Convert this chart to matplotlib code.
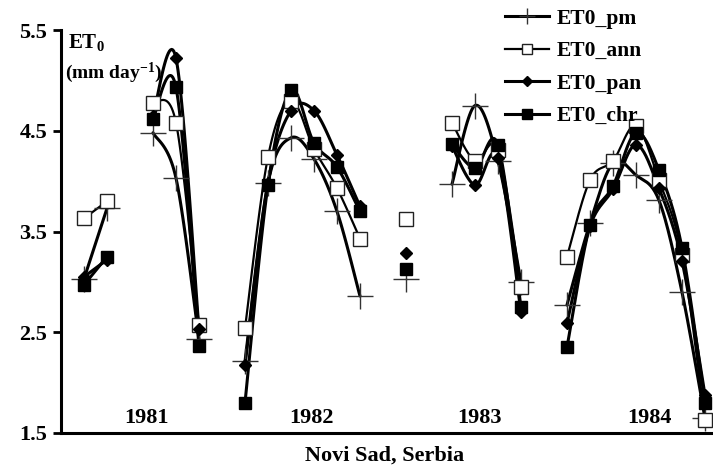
import numpy as np
import matplotlib
matplotlib.use("Agg")
import matplotlib.pyplot as plt
from matplotlib.lines import Line2D

plt.rcParams["font.family"] = ["Liberation Serif", "DejaVu Serif"]
plt.rcParams["font.weight"] = "bold"
plt.rcParams["mathtext.fontset"] = "custom"
plt.rcParams["mathtext.rm"] = "Liberation Serif:bold"
plt.rcParams["mathtext.default"] = "rm"

nan = np.nan
# Monthly slots, seven per season; NaN marks months without data
years = ["1981", "1982", "1983", "1984"]
year_pos = [2.7, 9.9, 17.2, 24.6]

et0_pm = [3.03, 3.73, nan, 4.48, 4.03, 2.43, nan,
          2.21, 3.98, 4.43, 4.22, 3.70, 2.86, nan,
          3.03, nan, 3.97, 4.75, 4.20, 3.00, nan,
          2.77, 3.58, 4.18, 4.06, 3.81, 2.90, 1.65]
et0_ann = [3.63, 3.80, nan, 4.78, 4.58, 2.57, nan,
           2.54, 4.24, 4.80, 4.32, 3.93, 3.43, nan,
           3.62, nan, 4.58, 4.20, 4.31, 2.95, nan,
           3.25, 4.01, 4.20, 4.55, 4.01, 3.27, 1.63]
et0_pan = [3.05, 3.22, nan, 4.65, 5.22, 2.53, nan,
           2.17, 3.98, 4.70, 4.70, 4.26, 3.75, nan,
           3.29, nan, 4.35, 3.96, 4.23, 2.70, nan,
           2.59, 3.55, 3.92, 4.36, 3.93, 3.21, 1.88]
et0_chr = [2.97, 3.25, nan, 4.62, 4.93, 2.36, nan,
           1.80, 3.96, 4.90, 4.38, 4.14, 3.70, nan,
           3.13, nan, 4.37, 4.13, 4.36, 2.75, nan,
           2.35, 3.56, 3.95, 4.48, 4.11, 3.34, 1.80]

yticks = [1.5, 2.5, 3.5, 4.5, 5.5]


def smooth_runs(y, n=24):
    """Smoothed (Catmull-Rom) curves through each contiguous run of values."""
    y = np.asarray(y, float)
    x = np.arange(len(y), dtype=float)
    ok = ~np.isnan(y)
    runs, start = [], None
    for i in range(len(y) + 1):
        if i < len(y) and ok[i]:
            if start is None:
                start = i
        elif start is not None:
            runs.append((start, i))
            start = None
    curves = []
    for a, b in runs:
        px, py = x[a:b], y[a:b]
        if len(px) < 2:
            continue
        cx, cy = [], []
        m = len(px)
        for i in range(m - 1):
            p0 = i - 1 if i > 0 else i
            p3 = i + 2 if i + 2 < m else i + 1
            t = np.linspace(0, 1, n)
            c1x = px[i] + (px[i + 1] - px[p0]) / 6
            c1y = py[i] + (py[i + 1] - py[p0]) / 6
            c2x = px[i + 1] - (px[p3] - px[i]) / 6
            c2y = py[i + 1] - (py[p3] - py[i]) / 6
            bx = ((1 - t) ** 3 * px[i] + 3 * (1 - t) ** 2 * t * c1x
                  + 3 * (1 - t) * t ** 2 * c2x + t ** 3 * px[i + 1])
            by = ((1 - t) ** 3 * py[i] + 3 * (1 - t) ** 2 * t * c1y
                  + 3 * (1 - t) * t ** 2 * c2y + t ** 3 * py[i + 1])
            cx.extend(bx)
            cy.extend(by)
        curves.append((np.array(cx), np.array(cy)))
    return curves


fig = plt.figure(figsize=(7.13, 4.68), dpi=100)
ax = fig.add_axes([61 / 713, 1 - 433 / 468, 1 - 61 / 713, (433 - 30) / 468])

styles = [
    (et0_pm, dict(marker="+", ms=19, mew=1.0, mfc="none", mec="#333333"), 2.2),
    (et0_ann, dict(marker="s", ms=9.5, mew=1.0, mfc="white", mec="#222222"), 1.6),
    (et0_pan, dict(marker="D", ms=6.5, mew=1.0, mfc="black", mec="black"), 2.2),
    (et0_chr, dict(marker="s", ms=9, mew=1.0, mfc="black", mec="black"), 2.2),
]

xs = np.arange(len(et0_pm))
for vals, mk, lw in styles:
    for cx, cy in smooth_runs(vals):
        ax.plot(cx, cy, color="black", lw=lw, solid_capstyle="round", zorder=2)
for vals, mk, lw in styles:
    ax.plot(xs, vals, ls="none", zorder=3, **mk)

ax.set_xlim(-1, 27.35)
ax.set_ylim(1.5, 5.5)
ax.set_yticks(yticks)
ax.set_yticklabels([f"{v:.1f}" for v in yticks], fontsize=16, fontweight="bold")
ax.set_xticks([])
for s in ["top", "right"]:
    ax.spines[s].set_visible(False)
for s in ["left", "bottom"]:
    ax.spines[s].set_linewidth(2.2)
ax.tick_params(axis="y", length=6, width=2, direction="out", pad=4)

for lab, p in zip(years, year_pos):
    ax.text(p, 1.65, lab, ha="center", va="center", fontsize=16, fontweight="bold")

ax.text(0.01, 0.995, r"ET$_{0}$", transform=ax.transAxes, ha="left", va="top",
        fontsize=15, fontweight="bold")
ax.text(0.006, 0.893, r"(mm day$^{-1}$)", transform=ax.transAxes, ha="left", va="center",
        fontsize=14, fontweight="bold")

fig.text(385 / 713, 1 - 456 / 468, "Novi Sad, Serbia", ha="center", va="center",
         fontsize=16, fontweight="bold")

handles = [
    Line2D([], [], color="black", lw=2.2, marker="+", ms=12, mew=1.0, mec="#333333"),
    Line2D([], [], color="black", lw=1.6, marker="s", ms=7, mew=1.0, mfc="white", mec="#222222"),
    Line2D([], [], color="black", lw=2.2, marker="D", ms=5, mfc="black", mec="black"),
    Line2D([], [], color="black", lw=2.2, marker="s", ms=7, mfc="black", mec="black"),
]
labels = ["ET0_pm", "ET0_ann", "ET0_pan", "ET0_chr"]
fig.legend(handles, labels, loc="upper left", bbox_to_anchor=(499 / 713, 1 - 2 / 468),
           frameon=False, handlelength=2.0, handletextpad=0.4,
           labelspacing=0.58, borderaxespad=0.2, borderpad=0.1,
           prop={"weight": "bold", "size": 15.5})

fig.savefig("out.png", dpi=100)
